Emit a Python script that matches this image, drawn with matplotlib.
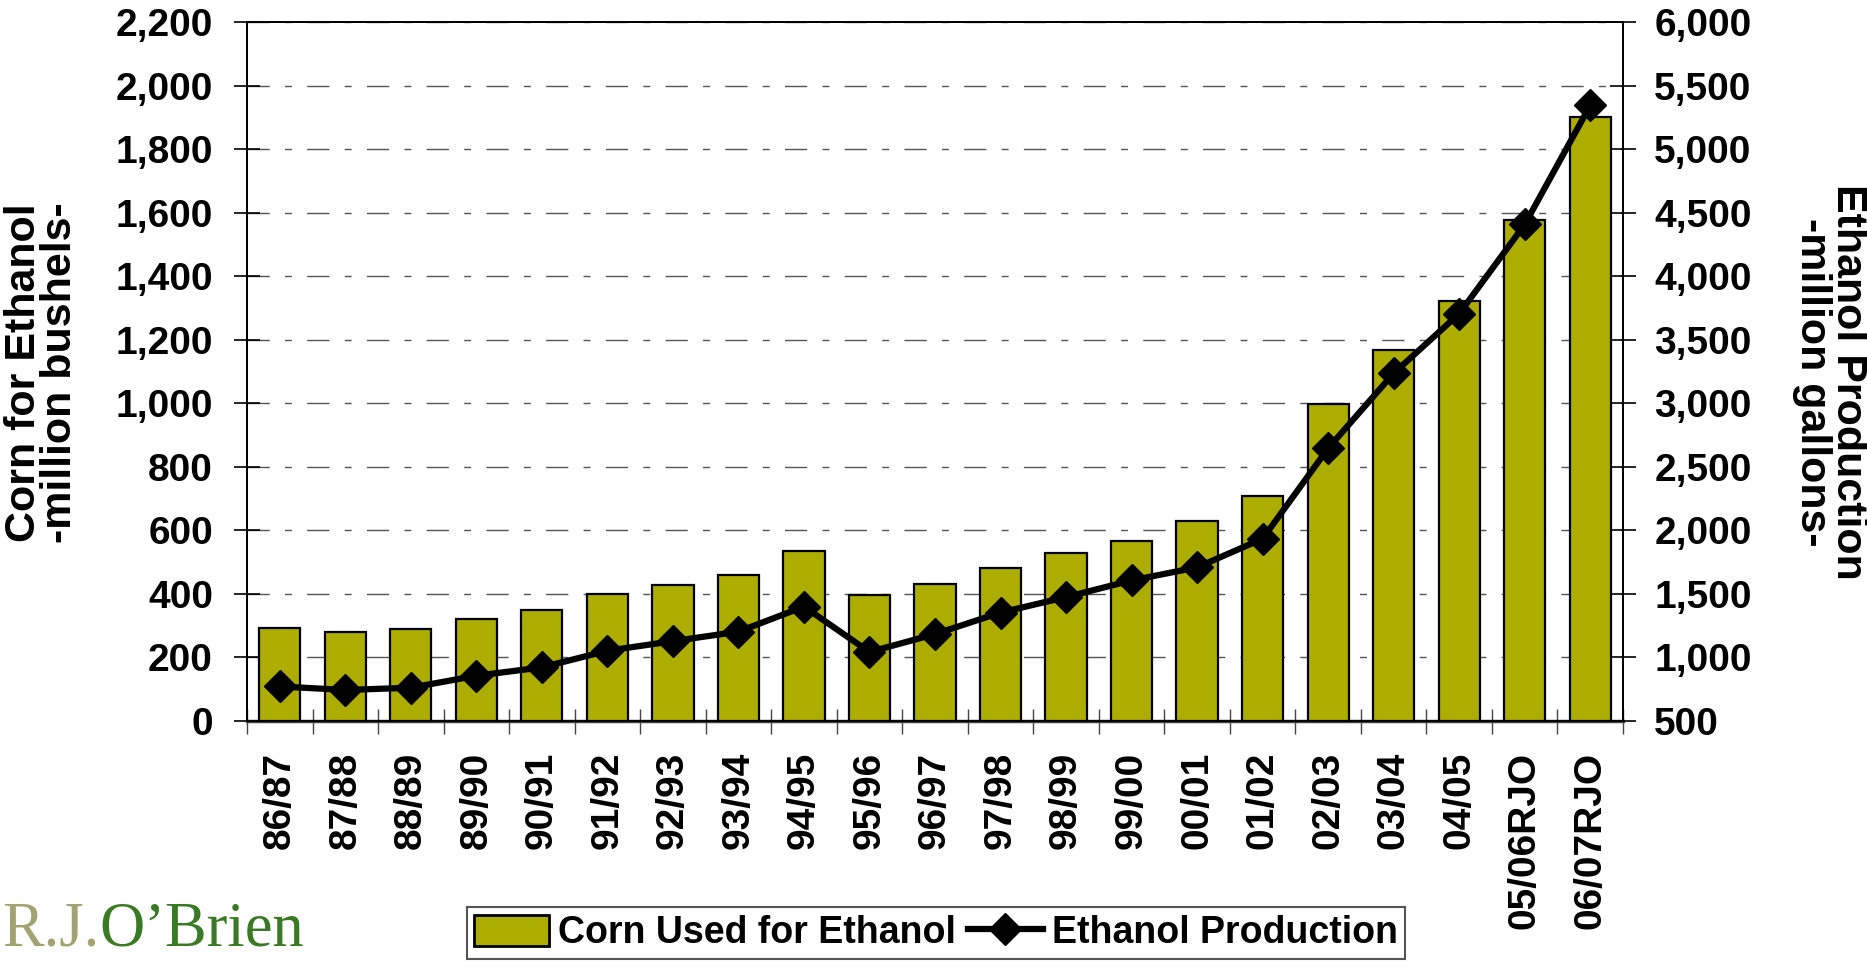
import matplotlib
matplotlib.use("Agg")
import matplotlib.pyplot as plt
from matplotlib.patches import Patch
from matplotlib.lines import Line2D
from matplotlib import font_manager

seasons = ["86/87", "87/88", "88/89", "89/90", "90/91", "91/92", "92/93", "93/94",
           "94/95", "95/96", "96/97", "97/98", "98/99", "99/00", "00/01", "01/02",
           "02/03", "03/04", "04/05", "05/06RJO", "06/07RJO"]
corn_used = [292, 281, 289, 322, 349, 401, 427, 461, 536, 398, 431, 483, 528, 566,
             630, 708, 997, 1169, 1323, 1578, 1900]
ethanol_prod = [772, 744, 762, 856, 922, 1053, 1128, 1203, 1400, 1043, 1184, 1353,
                1475, 1606, 1709, 1934, 2646, 3236, 3705, 4407, 5344]
left_ticks = list(range(0, 2201, 200))
right_ticks = list(range(500, 6001, 500))

BAR = "#ADAD00"
plt.rcParams['font.family'] = ['Liberation Sans', 'DejaVu Sans']
plt.rcParams['font.weight'] = 'bold'

names = {f.name for f in font_manager.fontManager.ttflist}
if 'Liberation Sans Narrow' in names:
    LEG_FAMILY, LEG_SIZE = ['Liberation Sans Narrow', 'Liberation Sans'], 32
else:
    LEG_FAMILY, LEG_SIZE = ['Liberation Sans', 'DejaVu Sans'], 27

W, H = 1867, 963
fig = plt.figure(figsize=(W/100, H/100), dpi=100)
ax = fig.add_axes([247/W, 1-721/H, (1623-247)/W, (721-22)/H])
ax2 = ax.twinx()

x = list(range(len(seasons)))
ax.bar(x, corn_used, width=0.63, color=BAR, edgecolor="black", linewidth=1.6, zorder=3)
ax.set_xlim(-0.5, len(seasons)-0.5)
ax.set_ylim(0, 2200)
ax.set_yticks(left_ticks)
ax.set_yticklabels([f"{v:,}" for v in left_ticks], fontsize=28, fontweight='bold')
ax.yaxis.grid(True, color="#555555", linewidth=1.0, linestyle=(0, (16, 11, 5, 11)), zorder=0)
ax.set_axisbelow(True)
ax.tick_params(axis='y', direction='inout', length=19, width=1.2, pad=15)

ax.set_xticks(x)
ax.set_xticklabels(seasons, rotation=90, fontsize=28, fontweight='bold')
ax.tick_params(axis='x', which='major', length=0, pad=22)
ax.set_xticks([i - 0.5 for i in range(len(seasons)+1)], minor=True)
ax.tick_params(axis='x', which='minor', direction='inout', length=18, width=1.0, color="#444444")

ax2.plot(x, ethanol_prod, color="black", linewidth=4.5, marker="D", markersize=16,
         zorder=5)
ax2.set_ylim(500, 6000)
ax2.set_yticks(right_ticks)
ax2.set_yticklabels([f"{v:,}" for v in right_ticks], fontsize=28, fontweight='bold')
ax2.tick_params(axis='y', direction='inout', length=19, width=1.2, pad=13)

for a in (ax, ax2):
    for s in a.spines.values():
        s.set_linewidth(1.3)
ax.spines['bottom'].set_linewidth(2.5)
ax.spines['bottom'].set_color("#444444")

fig.text(42/W, 1-373/H, "Corn for Ethanol\n-million bushels-", rotation=90,
         ha='center', va='center', fontsize=31, fontweight='bold', linespacing=0.85)
fig.text(1830/W, 1-382/H, "Ethanol Production\n-million gallons-", rotation=-90,
         ha='center', va='center', fontsize=31, fontweight='bold', linespacing=0.85)

handles = [Patch(facecolor=BAR, edgecolor="black", linewidth=2.0),
           Line2D([0], [0], color="black", linewidth=4.5, marker="D", markersize=16)]
leg = fig.legend(handles, ["Corn Used for Ethanol", "Ethanol Production"],
                 loc='center', bbox_to_anchor=(936/W, 1-933/H), ncol=2,
                 frameon=True, fancybox=False, framealpha=1,
                 edgecolor="#555555", handlelength=2.0, handleheight=0.9,
                 handletextpad=0.25, columnspacing=0.3, borderpad=0.2,
                 borderaxespad=0,
                 prop={'weight': 'bold', 'size': LEG_SIZE, 'family': LEG_FAMILY})
leg.get_frame().set_linewidth(1.5)

fig.text(2/W, 1-945/H, "R.J.", fontsize=45, family='Liberation Serif',
         color="#A3A272", fontweight='normal', ha='left', va='baseline')
fig.text(99/W, 1-945/H, "O\u2019Brien", fontsize=45, family='Liberation Serif',
         color="#3B7A24", fontweight='normal', ha='left', va='baseline')

fig.savefig("out.png", dpi=100)
